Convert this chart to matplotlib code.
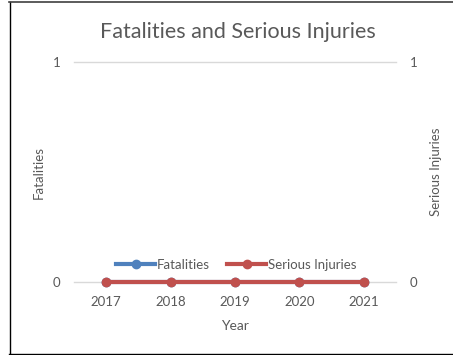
import matplotlib
matplotlib.use("Agg")
import matplotlib.pyplot as plt
from matplotlib.lines import Line2D

years = ["2017", "2018", "2019", "2020", "2021"]
fatalities = [0, 0, 0, 0, 0]
serious_injuries = [0, 0, 0, 0, 0]

plt.rcParams['font.family'] = ['Lato', 'DejaVu Sans']
gray = "#595959"
W, H = 453, 355
fig = plt.figure(figsize=(W/100, H/100), dpi=100)
ax = fig.add_axes([74/W, 1-282/H, (396-74)/W, (282-62)/H])
ax2 = ax.twinx()

x = list(range(len(years)))
ax.plot(x, fatalities, color="#4F81BD", lw=3, marker="o", ms=6, label="Fatalities", zorder=3, clip_on=False)
ax2.plot(x, serious_injuries, color="#C0504D", lw=3, marker="o", ms=6, label="Serious Injuries", zorder=3, clip_on=False)

for a in (ax, ax2):
    a.set_ylim(0, 1)
    a.set_yticks([0, 1])
    a.set_xlim(-0.5, len(years)-0.5)
    for s in a.spines.values():
        s.set_visible(False)
    a.tick_params(length=0, labelsize=9.5, labelcolor=gray)
ax.set_xticks(x)
ax.set_xticklabels(years)
ax.tick_params(axis='x', pad=10)
ax.tick_params(axis='y', pad=10)
ax2.tick_params(axis='y', pad=10)
ax.grid(axis='y', color="#D9D9D9", lw=1, clip_on=False)
ax.set_axisbelow(True)
ax2.patch.set_visible(False)

ax.set_ylabel("Fatalities", fontsize=9.5, color=gray)
ax.yaxis.set_label_coords((45-74)/(396-74), 0.5)
ax2.set_ylabel("Serious Injuries", fontsize=9.5, color=gray, rotation=90)
ax2.yaxis.set_label_coords((430-74)/(396-74), 0.5)
ax.set_xlabel("Year", fontsize=10, color=gray, labelpad=9)

fig.text(238/W, 1-32/H, "Fatalities and Serious Injuries", ha="center", va="center", fontsize=15.5, color=gray)

handles = [Line2D([], [], color="#4F81BD", lw=3, marker="o", ms=6),
           Line2D([], [], color="#C0504D", lw=3, marker="o", ms=6)]
fig.legend(handles, ["Fatalities", "Serious Injuries"], loc="center", bbox_to_anchor=(236/W, 1-265/H),
           ncol=2, frameon=False, fontsize=9.5, labelcolor=gray, handlelength=3.0, handletextpad=0.1,
           columnspacing=1.3)

# border
fig.add_artist(Line2D([9.5/W, 9.5/W], [1-1.5/H, 1-353.5/H], color="black", lw=1))
fig.add_artist(Line2D([9/W, 1], [1-1.5/H, 1-1.5/H], color="#404040", lw=1.2))
fig.add_artist(Line2D([9/W, 1], [1-353.5/H, 1-353.5/H], color="black", lw=1))

fig.savefig("out.png", dpi=100)
